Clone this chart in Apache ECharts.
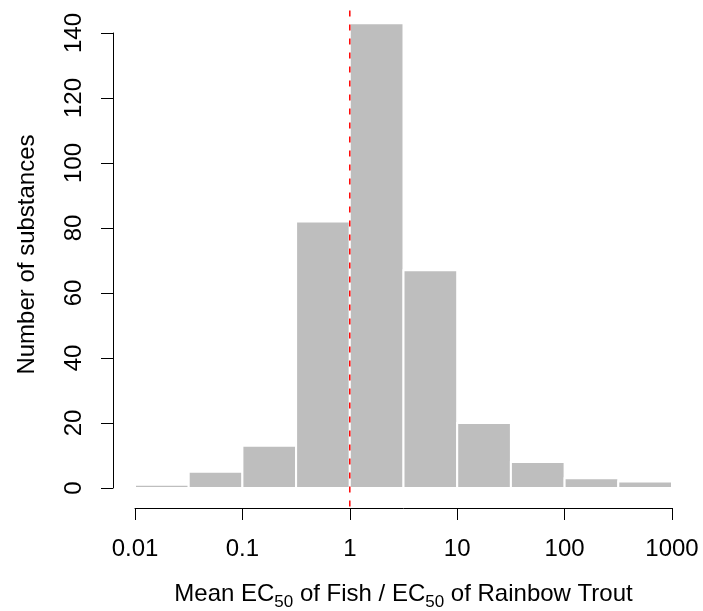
<!DOCTYPE html>
<html>
<head>
<meta charset="utf-8">
<script src="https://cdn.jsdelivr.net/npm/echarts@6/dist/echarts.min.js"></script>
<style>
  html, body { margin: 0; padding: 0; background: #fff; }
  #chart { width: 703px; height: 611px; }
</style>
</head>
<body>
<div id="chart"></div>
<script>
// Histogram bins on a log scale (half-decade widths) and their counts
var binEdges = [0.01, 0.0316228, 0.1, 0.316228, 1, 3.16228, 10, 31.6228, 100, 316.228, 1000];
var counts = [1, 5, 13, 82, 143, 67, 20, 8, 3, 2];
var xTicks = [0.01, 0.1, 1, 10, 100, 1000];
var xTickLabels = ['0.01', '0.1', '1', '10', '100', '1000'];
var yTicks = [0, 20, 40, 60, 80, 100, 120, 140];
var referenceRatio = 1;

var FONT = '"Liberation Sans", Arial, Helvetica, sans-serif';
var maxCount = Math.max.apply(null, counts);

var barData = counts.map(function (c, i) {
  return [binEdges[i], binEdges[i + 1], c];
});

var chart = echarts.init(document.getElementById('chart'), null, { renderer: 'canvas' });

chart.setOption({
  animation: false,
  backgroundColor: '#ffffff',
  grid: { left: 135, right: 31, top: 33, bottom: 123, containLabel: false, outerBoundsMode: 'none' },
  xAxis: {
    type: 'log',
    logBase: 10,
    min: xTicks[0],
    max: xTicks[xTicks.length - 1],
    offset: 20,
    splitLine: { show: false },
    axisLine: { show: true, onZero: false, lineStyle: { color: '#000', width: 1 } },
    axisTick: { show: true, inside: false, length: 12, lineStyle: { color: '#000', width: 1 } },
    minorTick: { show: false },
    axisLabel: {
      show: true,
      margin: 29,
      color: '#000',
      fontFamily: FONT,
      fontSize: 24,
      formatter: function (v) {
        for (var i = 0; i < xTicks.length; i++) {
          if (Math.abs(Math.log10(v) - Math.log10(xTicks[i])) < 1e-6) return xTickLabels[i];
        }
        return '';
      }
    },
    name: '{n|Mean EC}{s|50}{n| of Fish / EC}{s|50}{n| of Rainbow Trout}',
    nameLocation: 'middle',
    nameGap: 69,
    nameTextStyle: {
      color: '#000',
      fontFamily: FONT,
      rich: {
        n: { fontSize: 24, fontFamily: FONT, color: '#000', lineHeight: 34, verticalAlign: 'middle' },
        s: { fontSize: 17, fontFamily: FONT, color: '#000', lineHeight: 17, verticalAlign: 'bottom' }
      }
    }
  },
  yAxis: {
    type: 'value',
    min: yTicks[0],
    max: yTicks[yTicks.length - 1],
    interval: yTicks[1] - yTicks[0],
    offset: 22,
    splitLine: { show: false },
    axisLine: { show: true, onZero: false, lineStyle: { color: '#000', width: 1 } },
    axisTick: { show: true, inside: false, length: 12, lineStyle: { color: '#000', width: 1 } },
    axisLabel: {
      show: true,
      rotate: 90,
      margin: 27,
      color: '#000',
      fontFamily: FONT,
      fontSize: 24
    },
    name: 'Number of substances',
    nameLocation: 'middle',
    nameGap: 74,
    nameRotate: 90,
    nameTextStyle: { color: '#000', fontFamily: FONT, fontSize: 24, padding: [0, 0, 0, 12] }
  },
  series: [
    {
      type: 'custom',
      clip: false,
      data: barData,
      renderItem: function (params, api) {
        var p0 = api.coord([api.value(0), 0]);
        var p1 = api.coord([api.value(1), api.value(2)]);
        return {
          type: 'rect',
          shape: { x: p0[0], y: p1[1], width: p1[0] - p0[0], height: p0[1] - p1[1] },
          style: { fill: '#BEBEBE', stroke: '#ffffff', lineWidth: 2 }
        };
      },
      encode: { x: [0, 1], y: 2 },
      z: 2
    },
    {
      // vertical dashed reference at ratio = 1, spanning the padded plot region
      type: 'custom',
      clip: false,
      data: [[referenceRatio]],
      renderItem: function (params, api) {
        var pad = maxCount * 0.04;
        var a = api.coord([api.value(0), -pad]);
        var b = api.coord([api.value(0), maxCount + pad]);
        return {
          type: 'line',
          shape: { x1: a[0], y1: a[1], x2: b[0], y2: b[1] },
          style: { stroke: '#FF0000', lineWidth: 1.5, lineDash: [6, 8] }
        };
      },
      encode: { x: 0 },
      z: 3
    }
  ]
});
</script>
</body>
</html>
